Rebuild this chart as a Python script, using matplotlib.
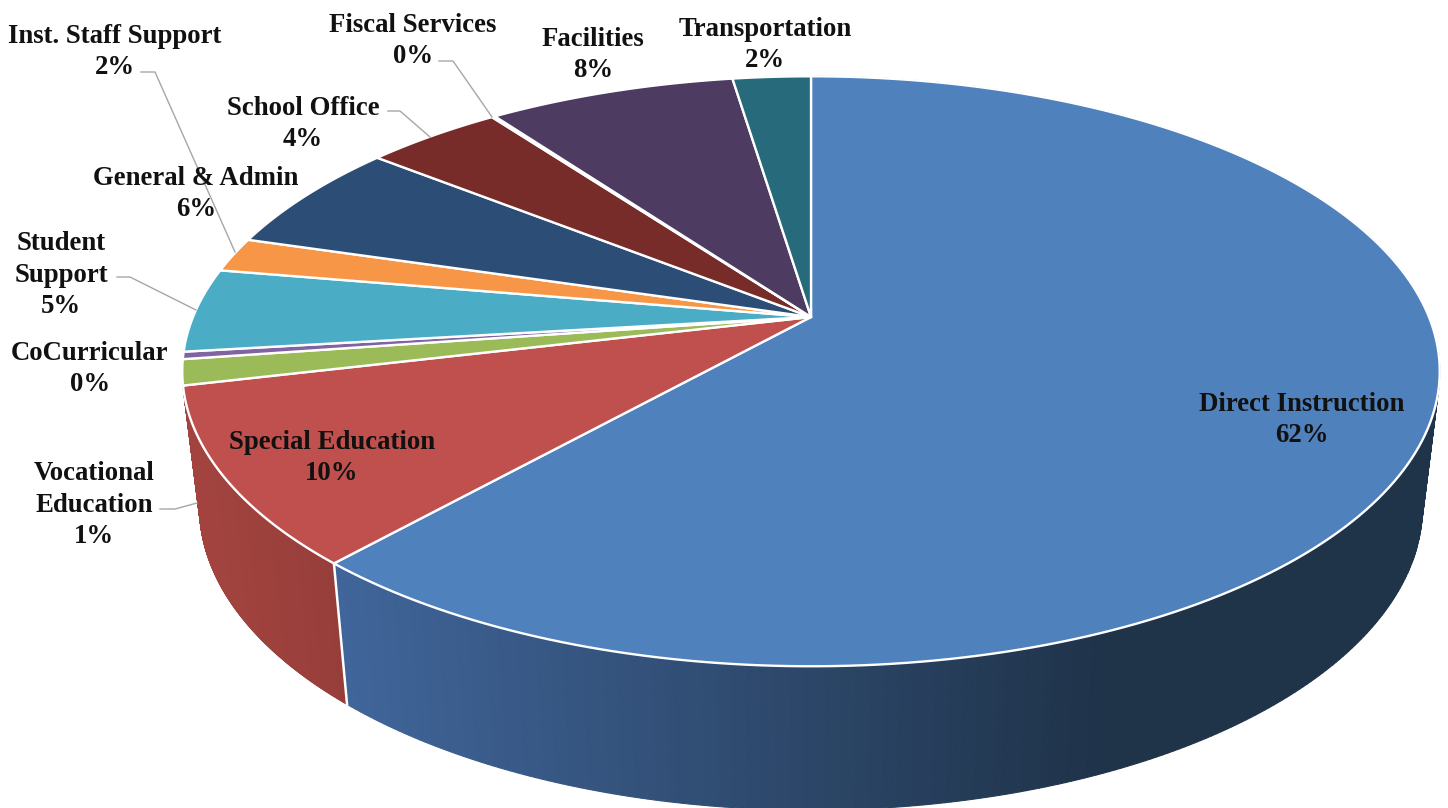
import matplotlib
matplotlib.use('Agg')
import matplotlib.pyplot as plt
import numpy as np

plt.rcParams['font.family'] = ['Liberation Serif', 'DejaVu Serif']

# Budget share per category, clockwise from 12 o'clock
categories = ['Direct Instruction', 'Special Education', 'Vocational\nEducation', 'CoCurricular',
              'Student\nSupport', 'Inst. Staff Support', 'General & Admin', 'School Office',
              'Fiscal Services', 'Facilities', 'Transportation']
shares = [61.6, 9.7, 1.4, 0.4, 4.6, 1.9, 6.1, 4.2, 0.1, 7.6, 2.4]
colors = ['#4f81bd', '#c0504d', '#9bbb59', '#8064a2', '#4bacc6', '#f79646',
          '#2c4d75', '#772c2a', '#5f7530', '#4d3b62', '#276a7c']

# label centres in pixels
label_x = [1302, 332, 94, 90, 61, 115, 196, 303, 413, 593, 765]
label_y = [420, 458, 505, 369, 275, 52, 194, 124, 41, 55, 45]

# perspective of the pie, the disc is tilted away from the viewer
cx, cy = 811, 317
tilt = 0.184
rx_top, ry_top = 618, 285
rx_bot, ry_bot, cy_bot = 601, 293, 451


def project(angle, rx, ry, y0):
    # angle in radians clockwise from the top of the disc
    u, v = np.sin(angle), np.cos(angle)
    w = 1 + tilt * v
    return cx + rx * u / w, y0 - ry * v / w


def mix(c1, c2, t):
    return tuple(np.array(matplotlib.colors.to_rgb(c1)) * (1 - t) + np.array(matplotlib.colors.to_rgb(c2)) * t)


fig = plt.figure(figsize=(14.48, 8.08), dpi=100)
ax = fig.add_axes([0, 0, 1, 1])
ax.set_xlim(0, 1448)
ax.set_ylim(808, 0)
ax.axis('off')

edges = np.radians(np.cumsum([0] + shares) * 3.6)

# side wall, only the first two slices show it
wall_ramps = [('#40659a', '#1f3349', 340, 1110), ('#a2433f', '#973e3a', 200, 340)]
for i, (left, right, x_a, x_b) in enumerate(wall_ramps):
    th = np.linspace(edges[i], edges[i + 1], 400)
    x1, y1 = project(th, rx_top, ry_top, cy)
    x2, y2 = project(th, rx_bot, ry_bot, cy_bot)
    for j in range(len(th) - 1):
        t = np.clip((x1[j] - x_a) / (x_b - x_a), 0, 1)
        ax.fill([x1[j], x1[j + 1], x2[j + 1], x2[j]], [y1[j], y1[j + 1], y2[j + 1], y2[j]],
                color=mix(left, right, t), lw=0.8, zorder=1)

# white seam between the two walls
sx = project(np.array([edges[1]]), rx_top, ry_top, cy)
sb = project(np.array([edges[1]]), rx_bot, ry_bot, cy_bot)
ax.plot([sx[0][0], sb[0][0]], [sx[1][0], sb[1][0]], color='white', lw=1.8, zorder=2)

# top face
for i, c in enumerate(colors):
    th = np.linspace(edges[i], edges[i + 1], 200)
    x, y = project(th, rx_top, ry_top, cy)
    ax.fill(np.r_[cx, x], np.r_[cy, y], facecolor=c, edgecolor='white', lw=1.7, zorder=3, joinstyle='round')

# leader lines
leaders = [([141, 155, 235], [72, 72, 252]),
           ([439, 453, 492], [61, 61, 117]),
           ([388, 400, 430], [111, 111, 137]),
           ([117, 130, 196], [277, 277, 310]),
           ([160, 175, 197], [509, 509, 503])]
for lx, ly in leaders:
    ax.plot(lx, ly, color='#a6a6a6', lw=1.0, zorder=4)

for name, share, x, y in zip(categories, shares, label_x, label_y):
    ax.text(x, y, f'{name}\n{round(share)}%', ha='center', va='center', fontsize=19.3,
            fontweight='bold', color='#111111', linespacing=1.33, zorder=5)

fig.savefig('out.png', dpi=100)
